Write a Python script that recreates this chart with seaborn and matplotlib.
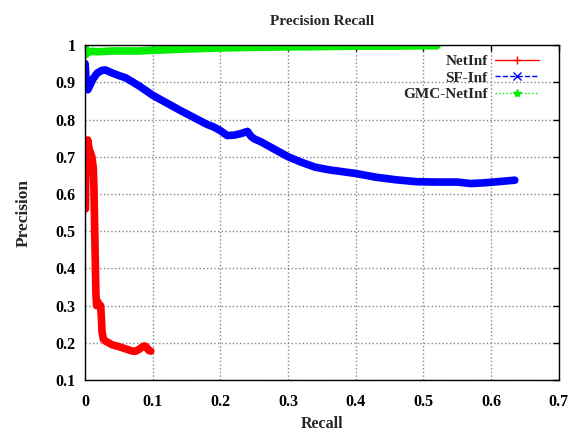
import matplotlib
matplotlib.use("Agg")
import matplotlib.pyplot as plt
from matplotlib.lines import Line2D
from matplotlib.ticker import FormatStrFormatter
import seaborn as sns
import pandas as pd

# valores
netinf_recall = [0.0005, 0.001, 0.002, 0.004, 0.006, 0.008, 0.010, 0.012, 0.013, 0.014,
                 0.015, 0.016, 0.017, 0.019, 0.021, 0.023, 0.024, 0.025, 0.027, 0.030,
                 0.035, 0.040, 0.050, 0.060, 0.070, 0.075, 0.080, 0.085, 0.088, 0.091,
                 0.094, 0.097]
netinf_precision = [0.56, 0.66, 0.70, 0.745, 0.72, 0.71, 0.70, 0.67, 0.62, 0.52,
                    0.42, 0.33, 0.30, 0.31, 0.30, 0.30, 0.27, 0.23, 0.21, 0.205,
                    0.20, 0.195, 0.19, 0.184, 0.178, 0.178, 0.183, 0.19, 0.192, 0.188,
                    0.18, 0.178]

sf_recall = [0.0, 0.002, 0.004, 0.008, 0.012, 0.018, 0.025, 0.03, 0.04, 0.05,
             0.06, 0.08, 0.10, 0.12, 0.14, 0.16, 0.18, 0.19, 0.20, 0.21,
             0.22, 0.23, 0.24, 0.245, 0.25, 0.26, 0.28, 0.30, 0.32, 0.34,
             0.36, 0.38, 0.40, 0.43, 0.46, 0.49, 0.52, 0.55, 0.57, 0.59,
             0.61, 0.635]
sf_precision = [0.95, 0.885, 0.88, 0.895, 0.91, 0.925, 0.932, 0.933, 0.925, 0.918,
                0.912, 0.89, 0.865, 0.845, 0.825, 0.806, 0.787, 0.78, 0.77, 0.757,
                0.758, 0.762, 0.768, 0.755, 0.748, 0.74, 0.72, 0.70, 0.685, 0.672,
                0.665, 0.66, 0.655, 0.645, 0.638, 0.633, 0.632, 0.632, 0.628, 0.630,
                0.633, 0.637]

gmc_recall = [0.0, 0.001, 0.003, 0.01, 0.02, 0.04, 0.06, 0.08, 0.10, 0.13,
              0.16, 0.20, 0.25, 0.30, 0.35, 0.40, 0.45, 0.50, 0.52]
gmc_precision = [1.0, 0.975, 0.98, 0.983, 0.982, 0.984, 0.984, 0.984, 0.986, 0.988,
                 0.99, 0.992, 0.994, 0.995, 0.996, 0.997, 0.997, 0.998, 0.998]

x_ticks = [0, 0.1, 0.2, 0.3, 0.4, 0.5, 0.6, 0.7]
y_ticks = [0.1, 0.2, 0.3, 0.4, 0.5, 0.6, 0.7, 0.8, 0.9, 1.0]

sns.set_style("white")
plt.rcParams['font.family'] = ['Liberation Serif', 'DejaVu Serif']
plt.rcParams['font.weight'] = 'bold'

fig = plt.figure(figsize=(5.79, 4.33), dpi=100)
ax = fig.add_axes([0.147, 0.122, 0.818, 0.774])

series = [
    ('NetInf', netinf_recall, netinf_precision, '#ff0000', '-', '+'),
    ('SF-Inf', sf_recall, sf_precision, '#0000ff', '--', 'x'),
    ('GMC-NetInf', gmc_recall, gmc_precision, '#00ee00', ':', '*'),
]

handles = []
for name, rx, py, cor, ls, mk in series:
    df = pd.DataFrame({'recall': rx, 'precision': py})
    sns.lineplot(data=df, x='recall', y='precision', sort=False, estimator=None,
                 color=cor, linewidth=5.5, ax=ax, solid_joinstyle='round',
                 solid_capstyle='round')
    handles.append(Line2D([], [], color=cor, linestyle=ls, linewidth=1,
                          marker=mk, markersize=6, markevery=[1]))

ax.set_xlim(0, 0.7)
ax.set_ylim(0.1, 1.0)
ax.set_xticks(x_ticks)
ax.set_yticks(y_ticks)
ax.xaxis.set_major_formatter(FormatStrFormatter('%g'))
ax.yaxis.set_major_formatter(FormatStrFormatter('%g'))
ax.tick_params(direction='in', top=True, right=True, length=4, width=1,
               labelsize=11.5, colors='black')
ax.tick_params(axis='x', pad=10)
ax.tick_params(axis='y', pad=7)
ax.grid(True, linestyle=':', color='#888888', linewidth=1)
for s in ax.spines.values():
    s.set_color('black')
    s.set_linewidth(1)

ax.set_title('Precision Recall', fontsize=11, fontweight='bold', pad=14.5)
ax.set_xlabel('Recall', fontsize=11.5, fontweight='bold', labelpad=4)
ax.set_ylabel('Precision', fontsize=12.5, fontweight='bold', labelpad=17)

leg = ax.legend(handles=handles, labels=[s[0] for s in series], loc='upper right',
                markerfirst=False, frameon=False, fontsize=11, handlelength=2.9,
                labelspacing=0.2, borderaxespad=0.1, handletextpad=0.45,
                borderpad=0.3, bbox_to_anchor=(0.971, 0.991))

fig.savefig('out.png', dpi=100)
